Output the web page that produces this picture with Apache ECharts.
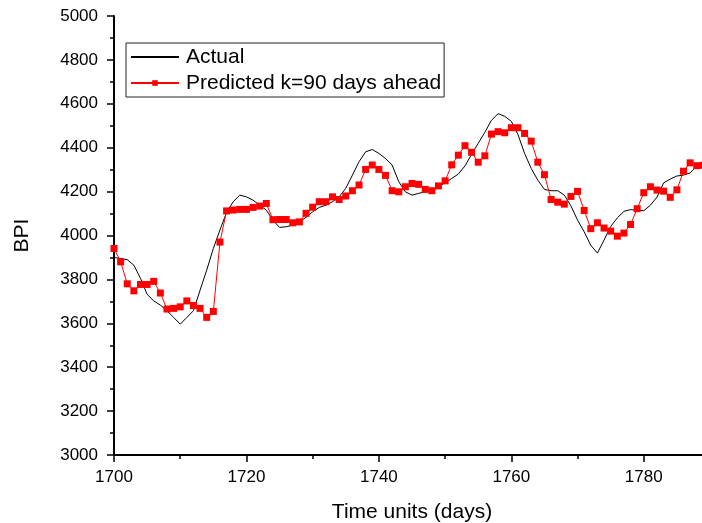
<!DOCTYPE html>
<html>
<head>
<meta charset="utf-8">
<script src="https://cdn.jsdelivr.net/npm/echarts@6/dist/echarts.min.js"></script>
<style>
  html, body { margin: 0; padding: 0; background: #fff; }
  #chart { width: 702px; height: 523px; }
</style>
</head>
<body>
<div id="chart"></div>
<script>
// Time axis (days)
const days = [
  1700, 1701, 1702, 1703, 1704, 1705, 1706, 1707, 1708, 1709,
  1710, 1711, 1712, 1713, 1714, 1715, 1716, 1717, 1718, 1719,
  1720, 1721, 1722, 1723, 1724, 1725, 1726, 1727, 1728, 1729,
  1730, 1731, 1732, 1733, 1734, 1735, 1736, 1737, 1738, 1739,
  1740, 1741, 1742, 1743, 1744, 1745, 1746, 1747, 1748, 1749,
  1750, 1751, 1752, 1753, 1754, 1755, 1756, 1757, 1758, 1759,
  1760, 1761, 1762, 1763, 1764, 1765, 1766, 1767, 1768, 1769,
  1770, 1771, 1772, 1773, 1774, 1775, 1776, 1777, 1778, 1779,
  1780, 1781, 1782, 1783, 1784, 1785, 1786, 1787, 1788, 1789
];

// Observed BPI
const actual = [
  3900, 3895, 3890, 3865, 3805, 3732, 3702, 3683, 3657, 3627,
  3596, 3627, 3657, 3751, 3842, 3941, 4025, 4105, 4154, 4184,
  4176, 4161, 4138, 4116, 4070, 4037, 4040, 4047, 4062, 4083,
  4108, 4128, 4138, 4154, 4176, 4215, 4275, 4336, 4381, 4392,
  4374, 4351, 4321, 4245, 4199, 4184, 4192, 4199, 4207, 4222,
  4240, 4260, 4280, 4317, 4370, 4420, 4470, 4525, 4555, 4543,
  4520, 4460, 4374, 4306, 4252, 4210, 4204, 4204, 4184, 4135,
  4070, 4017, 3955, 3920, 3979, 4041, 4080, 4110, 4118, 4115,
  4113, 4138, 4175, 4240, 4257, 4271, 4275, 4285, 4317, 4335
];

// Forecast made 90 days in advance
const predicted = [
  3941, 3880, 3780, 3748, 3777, 3777, 3791, 3738, 3665, 3668,
  3675, 3702, 3681, 3668, 3627, 3654, 3970, 4112, 4116, 4119,
  4119, 4128, 4134, 4146, 4072, 4073, 4073, 4058, 4062, 4101,
  4129, 4154, 4154, 4176, 4164, 4180, 4204, 4230, 4301, 4321,
  4301, 4274, 4204, 4199, 4222, 4237, 4233, 4210, 4204, 4226,
  4249, 4322, 4366, 4409, 4379, 4334, 4363, 4462, 4473, 4468,
  4491, 4491, 4465, 4430, 4334, 4277, 4164, 4152, 4143, 4178,
  4201, 4114, 4031, 4058, 4034, 4020, 3997, 4011, 4050, 4122,
  4195, 4222, 4207, 4202, 4174, 4208, 4293, 4331, 4318, 4320
];

const seriesNames = ['Actual', 'Predicted k=90 days ahead'];
const xTitle = 'Time units (days)';
const yTitle = 'BPI';

const FONT = 'Liberation Sans, Arial, sans-serif';

const pairs = (ys) => days.map((d, i) => [d, ys[i]]);
const plain = (v) => String(v);

const chart = echarts.init(document.getElementById('chart'), null, { renderer: 'canvas' });

const axisCommon = {
  axisLine: { show: true, lineStyle: { color: '#000', width: 2 } },
  axisTick: { show: true, inside: false, length: 7, lineStyle: { color: '#000', width: 1.5 } },
  minorTick: { show: true, splitNumber: 2, length: 4, lineStyle: { color: '#000', width: 1.5 } },
  splitLine: { show: false },
  minorSplitLine: { show: false },
  axisLabel: { color: '#000', fontFamily: FONT, fontSize: 17, formatter: plain },
  nameTextStyle: { color: '#000', fontFamily: FONT, fontSize: 21 }
};

chart.setOption({
  animation: false,
  backgroundColor: '#fff',
  grid: { left: 114, top: 16, bottom: 68, right: -8, containLabel: false, outerBoundsMode: 'none' },
  legend: {
    left: 126,
    top: 43,
    orient: 'vertical',
    padding: [2, 3, 2, 4],
    itemGap: 2,
    itemWidth: 48,
    itemHeight: 7,
    borderColor: '#222',
    borderWidth: 1,
    textStyle: { color: '#000', fontFamily: FONT, fontSize: 21, lineHeight: 24, padding: [0, 0, 0, 2] },
    data: [
      { name: seriesNames[0], itemStyle: { opacity: 0, color: 'rgba(0,0,0,0)', borderWidth: 0 } },
      { name: seriesNames[1] }
    ]
  },
  xAxis: Object.assign({}, axisCommon, {
    type: 'value',
    min: 1700,
    max: 1790,
    interval: 20,
    name: xTitle,
    nameLocation: 'middle',
    nameGap: 47,
    axisLabel: Object.assign({}, axisCommon.axisLabel, { margin: 14, showMaxLabel: false })
  }),
  yAxis: Object.assign({}, axisCommon, {
    type: 'value',
    min: 3000,
    max: 5000,
    interval: 200,
    name: yTitle,
    nameLocation: 'middle',
    nameGap: 81,
    axisLabel: Object.assign({}, axisCommon.axisLabel, { margin: 16 })
  }),
  series: [
    {
      name: seriesNames[0],
      type: 'line',
      data: pairs(actual),
      symbol: 'none',
      lineStyle: { color: '#000', width: 1 },
      itemStyle: { color: '#000' },
      z: 2
    },
    {
      name: seriesNames[1],
      type: 'line',
      data: pairs(predicted),
      symbol: 'rect',
      symbolSize: 7,
      showSymbol: true,
      showAllSymbol: true,
      lineStyle: { color: '#ff0000', width: 1 },
      itemStyle: { color: '#ff0000' },
      z: 3
    }
  ]
});
</script>
</body>
</html>
